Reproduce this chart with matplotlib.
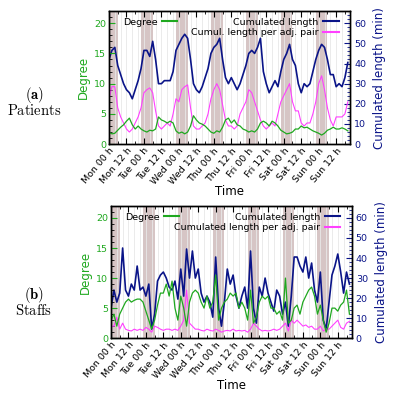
import numpy as np
import matplotlib.pyplot as plt
from matplotlib.ticker import MultipleLocator
from matplotlib.lines import Line2D

plt.rcParams['mathtext.fontset'] = 'cm'

# time axis (hours since Monday 00 h), one value every 2 h
hours = np.arange(0, 165, 2)
tick_pos = np.arange(0, 168, 12)
tick_labels = ['Mon 00 h', 'Mon 12 h', 'Tue 00 h', 'Tue 12 h', 'Wed 00 h', 'Wed 12 h',
               'Thu 00 h', 'Thu 12 h', 'Fri 00 h', 'Fri 12 h', 'Sat 00 h', 'Sat 12 h',
               'Sun 00 h', 'Sun 12 h']
night_start = np.arange(-2, 168, 24)   # nights from 22 h to 06 h
NIGHT_LEN = 8

# (a) patients
pat_degree = [2, 1.7, 1.8, 2.3, 2.8, 3.2, 3.8, 4.3, 3.2, 2.5,
              3, 2.5, 2.2, 2, 2.3, 2.2, 2.5, 4.5, 4, 3.8,
              3.5, 3.8, 3.5, 2.2, 1.8, 2, 1.7, 2, 3, 4.7,
              4, 3.5, 3.3, 3, 2.5, 2, 1.8, 2.2, 2, 2.8,
              4, 4.3, 3.5, 4, 3.2, 3, 2.5, 2.3, 2, 2.2,
              2, 2.5, 3.5, 3.8, 3.5, 3, 3.8, 3.5, 3, 2.3,
              2, 1.7, 1.8, 2, 2.5, 2.5, 3, 2.7, 2.8, 2.5,
              2.2, 2, 1.8, 1.5, 1.8, 2.3, 2.5, 2.8, 2.5, 2.5,
              2.7, 2.5, 2.2]
pat_length = [42, 46.5, 48, 39, 34.5, 30, 27, 25.5, 22.5, 27,
              31.5, 37.5, 46.5, 46.5, 43.5, 51, 42, 30, 30, 31.5,
              31.5, 31.5, 36, 46.5, 49.5, 52.5, 54.5, 52.5, 42, 30,
              27, 25.5, 28.5, 33, 37.5, 45, 48, 49.5, 52.5, 42,
              33, 30, 33, 30, 27, 30, 34.5, 39, 45, 46.5,
              45, 48, 52.5, 36, 30, 25.5, 28.5, 31.5, 28.5, 36,
              42, 45, 49.5, 42, 39, 30, 25.5, 30, 28.5, 30,
              36, 42, 46.5, 49.5, 48, 42, 34.5, 34.5, 28.5, 30,
              28.5, 33, 40.5]
pat_per_pair = [7.5, 9.5, 9.5, 6, 4.5, 3.5, 2.5, 2, 2.5, 3.5,
                4.5, 6, 8.5, 9, 9.3, 8.5, 5.5, 3, 2.5, 3,
                3.5, 3, 5, 7.5, 7, 9, 9.5, 9.8, 6, 3,
                2.5, 2.5, 3, 3.5, 5, 7.5, 9, 10, 9, 6.5,
                4, 3, 3, 2.5, 3, 5, 6, 7, 9, 8.5,
                7, 5.5, 4, 3, 2.5, 3, 3.5, 3, 5, 7,
                8, 9, 10, 7, 5.5, 5.5, 3.5, 3, 3.5, 3.5,
                5, 7, 10, 11.3, 9, 6, 4, 3, 4.5, 4.5,
                4.5, 5, 7]

# (b) staffs
stf_degree = [3, 4, 2, 4, 5, 6, 6.5, 6, 6.3, 6.5,
              6.5, 6, 4.5, 3, 1.5, 3, 5.5, 7.5, 7.5, 9,
              7, 9.5, 5, 3, 7, 5, 2, 6, 7.5, 8,
              7.5, 6, 5, 7, 5, 6, 10.5, 3, 5, 6,
              6.5, 7.5, 7, 7.5, 5, 6, 5, 3, 8, 2.5,
              3.5, 6, 7, 6.5, 7, 5, 5, 4, 4.5, 3,
              10, 2.5, 3, 5, 5.5, 4, 6, 7, 8, 8.5,
              7, 4, 5.5, 3, 1, 2.5, 5, 5, 4.5, 5.5,
              6, 8, 4]
stf_length = [15, 24, 18, 22.5, 45, 24, 21, 27, 24, 36,
              24, 25.5, 21, 27, 4.5, 12, 28.5, 31.5, 33, 30,
              25.5, 24, 28.5, 19.5, 34.5, 21, 44.5, 30, 43.5, 30,
              34.5, 22.5, 18, 21, 18, 10.5, 40.5, 15, 6, 18,
              34.5, 27, 31.5, 21, 15, 21, 25.5, 15, 43.5, 15,
              7.5, 25.5, 21, 30, 22.5, 18, 13.5, 24, 21, 12,
              18, 6, 21, 40.5, 40.5, 36, 33, 40.5, 30, 37.5,
              24, 18, 33, 9, 4.5, 18, 31.5, 36, 42, 33,
              22.5, 33, 27]
stf_per_pair = [2, 2, 3.5, 1.5, 2.5, 1.5, 1.3, 1.2, 1.5, 1.3,
                1.5, 1.3, 1.8, 1.5, 1, 2, 1.8, 1.5, 1.3, 1.5,
                1.5, 1.3, 1.5, 1.3, 2, 3, 8, 2.5, 2, 1.5,
                1.5, 1.3, 1.2, 1.5, 1.3, 1.2, 1.5, 1.3, 1, 1.2,
                1.3, 1.2, 1.5, 1.2, 1.3, 1.2, 1.3, 1, 1.5, 2.5,
                2, 1.5, 1.2, 1.3, 1.2, 1.3, 1.5, 1.3, 1.5, 2,
                2.5, 1.2, 3, 2.5, 3, 2.5, 2, 2.2, 1.8, 2,
                1.5, 1.5, 2, 1.2, 1.5, 1.5, 2, 2.5, 3, 1.8,
                1.5, 2.5, 2.8]

GREEN = '#1fa81f'
NAVY = '#0a1488'
MAGENTA = '#ff40ff'
NIGHT = '#d6c5c5'
FS = 6.8


def panel(rect, degree, length, per_pair, tag, name, pair_label, tag_y):
    ax = fig.add_axes(rect)
    ax2 = ax.twinx()
    ax.set_zorder(ax2.get_zorder() + 1)
    ax.patch.set_visible(False)

    for s in night_start:
        ax2.axvspan(s, s + NIGHT_LEN, color=NIGHT, lw=0, zorder=0)
    for g in np.arange(0, 168, 4):
        ax2.axvline(g, color='#e8e8e8', lw=0.6, zorder=0.5)

    ax2.plot(hours, length, color=NAVY, lw=1.2)
    ax.plot(hours, per_pair, color=MAGENTA, lw=0.8)
    ax.plot(hours, degree, color=GREEN, lw=0.9)

    ax.set_xlim(0, 165.5)
    ax.set_ylim(0, 22)
    ax2.set_ylim(0, 66)
    ax.set_xticks(tick_pos)
    ax.set_xticklabels(tick_labels, rotation=50, ha='right', rotation_mode='anchor', fontsize=6.3)
    ax.xaxis.set_minor_locator(MultipleLocator(6))
    ax.yaxis.set_major_locator(MultipleLocator(5))
    ax.yaxis.set_minor_locator(MultipleLocator(1))
    ax2.yaxis.set_major_locator(MultipleLocator(10))
    ax2.yaxis.set_minor_locator(MultipleLocator(2))
    ax.tick_params(which='both', direction='in', top=True, labelsize=FS, pad=2)
    ax.tick_params(axis='x', pad=1.5)
    ax.tick_params(axis='y', colors=GREEN)
    ax.tick_params(which='major', length=4)
    ax.tick_params(which='minor', length=2)
    ax2.tick_params(which='both', direction='in', labelsize=FS, colors=NAVY, pad=3)
    ax2.tick_params(which='major', length=4)
    ax2.tick_params(which='minor', length=2)
    for a in (ax, ax2):
        for sp in a.spines.values():
            sp.set_color('black')
            sp.set_linewidth(1.0)

    ax.set_ylabel('Degree', color=GREEN, fontsize=8.5, labelpad=3)
    ax2.set_ylabel('Cumulated length (min)', color=NAVY, fontsize=8.5, labelpad=5)
    ax.set_xlabel('Time', fontsize=8.5, labelpad=-1)

    leg1 = ax.legend([Line2D([], [], color=GREEN)], ['Degree'], loc='upper left',
                     bbox_to_anchor=(0.03, 1.0), frameon=False, markerfirst=False,
                     fontsize=FS, handlelength=1.6, borderaxespad=0.3, handletextpad=0.5)
    ax.add_artist(leg1)
    ax.legend([Line2D([], [], color=NAVY), Line2D([], [], color=MAGENTA)],
              ['Cumulated length', pair_label], loc='upper right',
              bbox_to_anchor=(0.98, 1.0), frameon=False, markerfirst=False,
              fontsize=FS, handlelength=1.6, borderaxespad=0.3,
              handletextpad=0.5, labelspacing=0.15)

    fig.text(0.085, tag_y, r'$\mathbf{' + tag + '}$', ha='center', va='center', fontsize=10.5)
    fig.text(0.085, tag_y - 0.04, r'$\mathrm{' + name + '}$', ha='center', va='center', fontsize=10.5)


fig = plt.figure(figsize=(4, 3.96), dpi=100)
panel([0.2725, 0.636, 0.6025, 0.336], pat_degree, pat_length, pat_per_pair,
      '(a)', 'Patients', 'Cumul. length per adj. pair', 0.76)
panel([0.2775, 0.146, 0.6015, 0.334], stf_degree, stf_length, stf_per_pair,
      '(b)', 'Staffs', 'Cumulated length per adj. pair', 0.255)

fig.savefig('out.png', dpi=100)
